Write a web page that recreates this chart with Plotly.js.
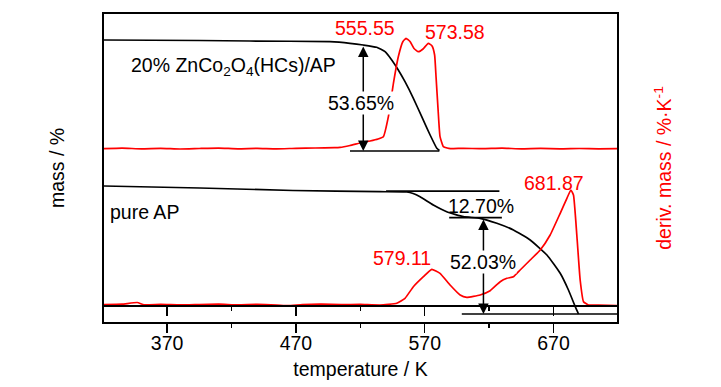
<!DOCTYPE html>
<html><head><meta charset="utf-8">
<script src="https://cdn.plot.ly/plotly-3.0.1.min.js"></script>
<style>body{margin:0;background:#fff}#chart{width:721px;height:387px}</style>
</head><body><div id="chart"></div>
<script>
// temperature (K) / mass (offset, arbitrary units; no scale shown)
const compT = [321.0, 395.4, 434.3, 496.4, 512.0, 522.3, 532.7, 539.2, 544.4, 549.5, 554.7, 561.2, 567.7, 574.2, 579.4, 581.4];
const compMass = [282, 281.5, 281, 280.3, 278.7, 277, 274.7, 270.3, 262, 252, 240.3, 223.7, 205.3, 187, 173.7, 171.5];

const apT = [321.0, 395.4, 467.7, 535.3, 556.1, 561.0, 566.4, 576.7, 587.1, 600.0, 613.0, 626.0, 638.9, 651.9, 664.9, 675.2, 681.6, 686.9, 689.4];
const apMass = [136, 134, 131.5, 130.3, 130, 128.5, 125.3, 117, 110.3, 105.3, 103.7, 98.7, 92, 82, 67, 48.7, 32, 15.3, 8];

// derivative curves (offset, arbitrary units)
const compDtgT = [321, 335, 350, 365, 380, 395, 410, 425, 440, 455, 470, 485, 500, 504.2, 512, 519.8, 527.6, 533.8, 537.9, 541.8, 545.7, 549.5, 553.0, 555.5, 558.6, 561.7, 565.1, 568.7, 572.8, 575.7, 577.7, 578.8, 580.4, 581.9, 584.5, 587.4, 590, 600, 615, 630, 645, 660, 675, 690, 705, 719.3];
const compDtg = [173.3, 173.8, 173.2, 173.6, 173.0, 173.5, 173.9, 173.2, 173.6, 173.1, 173.7, 174.0, 174.3, 174.6, 176.5, 179, 181, 183, 185.3, 205.3, 238.7, 265.3, 280.3, 283.7, 280.5, 273.5, 270.3, 273, 278.7, 276, 267, 245.3, 212, 185.3, 175.3, 174, 173.4, 173.7, 173.3, 173.8, 173.2, 173.6, 173.1, 173.5, 173.2, 173.4];

const apDtgT = [321, 335, 346.8, 352, 365, 380, 395, 410, 425, 440, 455, 463.8, 475, 490, 505, 520, 535.3, 548.3, 554.7, 561.2, 569.0, 575.5, 581.9, 589.7, 597.5, 602.7, 613.0, 620.8, 628.6, 633.8, 638.9, 644.1, 651.9, 659.7, 667.4, 675.2, 680.4, 683.5, 685.5, 688.2, 690.7, 693.3, 697.2, 705, 719.3];
const apDtg = [17.5, 17.8, 19.5, 17.2, 17.6, 17.1, 17.5, 17.8, 17.2, 17.6, 17.0, 16.3, 17.4, 17.8, 17.3, 17.6, 17, 18.7, 23.7, 35.3, 45.3, 52.7, 48.7, 37, 27, 24.7, 27, 31.3, 40.3, 43.7, 45.3, 52, 62, 72, 87, 108.7, 123.7, 132, 127, 85.3, 42, 20.3, 17, 16.8, 16.5];

// reference (tangent) lines
const compBaseT = [512.0, 581.4], compBaseM = [171, 171];
const apUpperT = [540, 628.0], apUpperM = [130.8, 130.8];
const apLowerT = [589.0, 629.9], apLowerM = [104.3, 104.3];
const apBaseT = [598.8, 719.3], apBaseM = [8, 8];

// mass-loss arrows: [T, from, to]
const lossArrows = [[522.3, 171, 277], [615.6, 8, 104]];
// text labels
const peakLabels = ['555.55', '573.58', '579.11', '681.87'];
const peakLabelT = [523.7, 593.6, 552.6, 670.5];
const peakLabelY = [294, 290.3, 64, 139];
const lossLabels = ['53.65%', '12.70%', '52.03%'];
const lossLabelT = [520.3, 613.4, 615.6];
const lossLabelY = [219.5, 116, 60];
const sampleLabels = ['20% ZnCo<sub>2</sub>O<sub>4</sub>(HCs)/AP', 'pure AP'];
const sampleLabelT = [340.2, 323.9];
const sampleLabelY = [256, 110];

const xTicks = [370, 470, 570, 670];
const xRange = [321.0, 719.3];
const yRange = [0, 308];

const FONT = 'Liberation Sans, Arial, sans-serif';
const FS = 19.5;
const RED = '#ff0000';

const blk = {color: '#000', width: 1.7};
const red = {color: RED, width: 1.7, shape: 'spline', smoothing: 0.4};

const traces = [
  {x: compDtgT, y: compDtg, mode: 'lines', line: red, xaxis: 'x', yaxis: 'y2', hoverinfo: 'skip'},
  {x: apDtgT, y: apDtg, mode: 'lines', line: red, xaxis: 'x', yaxis: 'y2', hoverinfo: 'skip'},
  {x: compT, y: compMass, mode: 'lines', line: Object.assign({shape: 'spline', smoothing: 0.4}, blk), hoverinfo: 'skip'},
  {x: apT, y: apMass, mode: 'lines', line: Object.assign({shape: 'spline', smoothing: 0.4}, blk), hoverinfo: 'skip'},
  {x: compBaseT, y: compBaseM, mode: 'lines', line: blk, xaxis: 'x2', hoverinfo: 'skip'},
  {x: apUpperT, y: apUpperM, mode: 'lines', line: blk, xaxis: 'x2', hoverinfo: 'skip'},
  {x: apLowerT, y: apLowerM, mode: 'lines', line: blk, xaxis: 'x2', hoverinfo: 'skip'},
  {x: apBaseT, y: apBaseM, mode: 'lines', line: blk, xaxis: 'x2', hoverinfo: 'skip'}
];

const annotations = [];
lossArrows.forEach(a => annotations.push({
  x: a[0], y: a[1], ax: a[0], ay: a[2], xref: 'x', yref: 'y', axref: 'x', ayref: 'y',
  text: '', showarrow: true, arrowside: 'end+start', arrowhead: 2, arrowsize: 1.4,
  arrowwidth: 1.5, arrowcolor: '#000', standoff: 0, startstandoff: 0
}));
peakLabels.forEach((t, i) => annotations.push({
  x: peakLabelT[i], y: peakLabelY[i], xref: 'x', yref: 'y', text: t, showarrow: false,
  font: {family: FONT, size: FS, color: RED}
}));
lossLabels.forEach((t, i) => annotations.push({
  x: lossLabelT[i], y: lossLabelY[i], xref: 'x', yref: 'y', text: t, showarrow: false,
  bgcolor: i === 1 ? 'rgba(0,0,0,0)' : '#fff', borderpad: 0,
  font: {family: FONT, size: FS, color: '#000'}
}));
sampleLabels.forEach((t, i) => annotations.push({
  x: sampleLabelT[i], y: sampleLabelY[i], xref: 'x', yref: 'y', text: t, showarrow: false,
  xanchor: 'left', font: {family: FONT, size: FS, color: '#000'}
}));

const layout = {
  width: 721, height: 387,
  margin: {l: 104, r: 104, t: 14, b: 65},
  paper_bgcolor: '#fff', plot_bgcolor: '#fff',
  showlegend: false,
  font: {family: FONT, size: FS, color: '#000'},
  xaxis: {
    range: xRange, tickvals: xTicks, ticks: 'outside', ticklen: 9, tickwidth: 1.5, tickcolor: '#000',
    minor: {dtick: 50, tick0: 320, ticks: 'outside', ticklen: 4, tickwidth: 1.5, tickcolor: '#000'},
    showline: true, linewidth: 2, linecolor: '#000', mirror: true, showgrid: false, zeroline: false,
    tickfont: {family: FONT, size: 19.5}, ticklabelstandoff: -6,
    title: {text: 'temperature / K', font: {family: FONT, size: FS}, standoff: 9}
  },
  xaxis2: {
    range: xRange, overlaying: 'x', anchor: 'free', position: 16.7 / 308, side: 'bottom',
    tickvals: xTicks, ticks: 'outside', ticklen: 9, tickwidth: 1.5, tickcolor: '#000',
    minor: {dtick: 50, tick0: 320, ticks: 'outside', ticklen: 4, tickwidth: 1.5, tickcolor: '#000'},
    showline: true, linewidth: 1.5, linecolor: '#000', showticklabels: false, showgrid: false, zeroline: false
  },
  yaxis: {
    range: yRange, showticklabels: false, ticks: '', showgrid: false, zeroline: false,
    showline: true, linewidth: 2, linecolor: '#000', mirror: true,
    title: {text: 'mass / %', font: {family: FONT, size: FS}, standoff: 32}
  },
  yaxis2: {
    range: yRange, overlaying: 'y', side: 'right', showticklabels: false, ticks: '',
    showgrid: false, zeroline: false, showline: false,
    title: {text: 'deriv. mass / %·K<sup>-1</sup>', font: {family: FONT, size: FS, color: RED}, standoff: 40}
  },
  annotations: annotations
};

Plotly.newPlot('chart', traces, layout, {staticPlot: true, displayModeBar: false});
</script>
</body></html>
